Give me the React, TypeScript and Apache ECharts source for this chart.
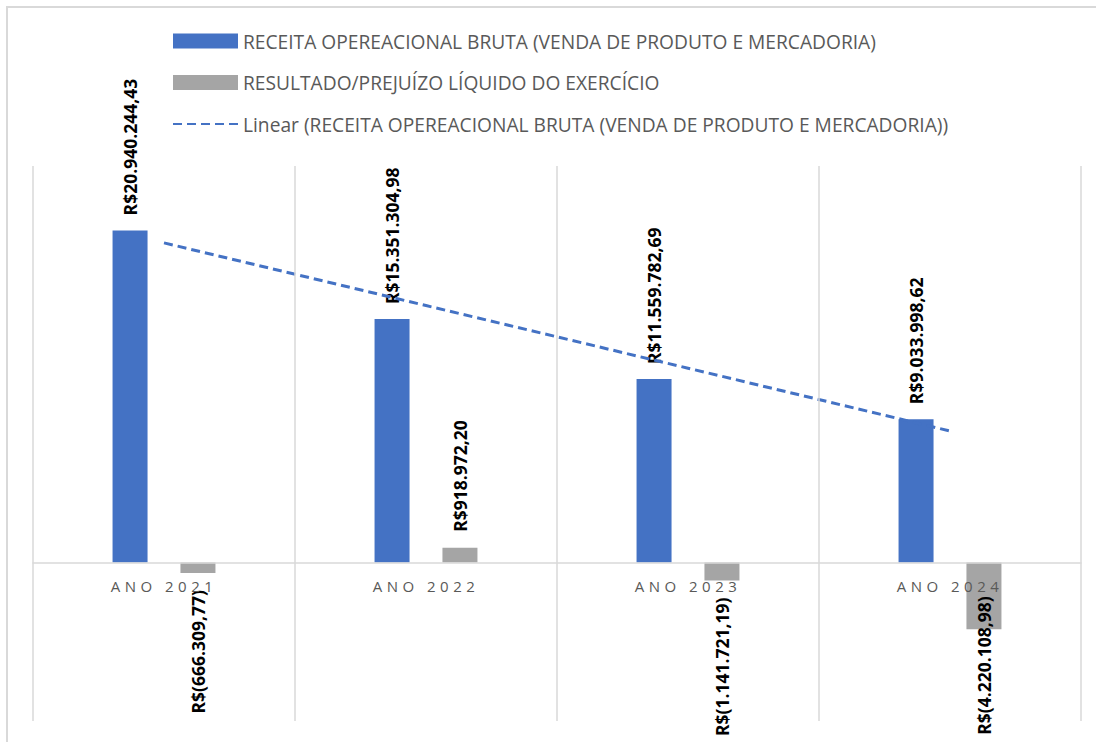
import React, { useEffect, useRef } from "react";
import * as echarts from "echarts";

const categories = ["ANO 2021", "ANO 2022", "ANO 2023", "ANO 2024"];
const receitaBruta = [20940244.43, 15351304.98, 11559782.69, 9033998.62];
const resultadoLiquido = [-666309.77, 918972.2, -1141721.19, -4220108.98];
const tendenciaLinear = [20150000, 16200000, 12250000, 8290000];

const NAME_RECEITA = "RECEITA OPEREACIONAL BRUTA (VENDA DE PRODUTO E MERCADORIA)";
const NAME_RESULTADO = "RESULTADO/PREJUÍZO LÍQUIDO DO EXERCÍCIO";
const NAME_LINEAR = "Linear (RECEITA OPEREACIONAL BRUTA (VENDA DE PRODUTO E MERCADORIA))";

const Y_MIN = -10000000;
const Y_MAX = 25000000;

const FONT = "'Open Sans', Lato, Roboto, sans-serif";
const AXIS_COLOR = "#595958";

function brl(v: number): string {
  const neg = v < 0;
  const [i, d] = Math.abs(v).toFixed(2).split(".");
  const s = i.replace(/\B(?=(\d{3})+(?!\d))/g, ".") + "," + d;
  return neg ? `R$(${s})` : `R$${s}`;
}

const labelBase = {
  show: true,
  rotate: 90,
  verticalAlign: "middle",
  color: "#000000",
  fontWeight: "bold",
  fontSize: 17.5,
  fontFamily: FONT,
  formatter: (p: any) => brl(p.value),
};

export default function App() {
  const ref = useRef<HTMLDivElement>(null);
  useEffect(() => {
    if (!ref.current) return;
    const chart = echarts.init(ref.current, null, { renderer: "svg" });
    const gridTop = 166;
    const gridBottom = 21;
    const gridHeight = 742 - gridTop - gridBottom;
    const zeroOffset = (gridHeight * (0 - Y_MIN)) / (Y_MAX - Y_MIN);
    chart.setOption({
      animation: false,
      backgroundColor: "#ffffff",
      graphic: [
        {
          type: "rect",
          shape: { x: 7, y: 7, width: 1200, height: 800 },
          style: { fill: "none", stroke: "#d9d9d9", lineWidth: 2 },
          silent: true,
          z: -1,
        },
      ],
      legend: {
        orient: "vertical",
        left: 167,
        top: 25,
        itemWidth: 65,
        itemHeight: 15,
        itemGap: 19.5,
        textStyle: { color: "#595959", fontSize: 19.2, fontFamily: FONT, lineHeight: 22 },
        data: [
          { name: NAME_RECEITA, icon: "rect" },
          { name: NAME_RESULTADO, icon: "rect" },
          { name: NAME_LINEAR, itemStyle: { opacity: 0 } },
        ],
      },
      grid: {
        left: 33,
        right: 15,
        top: gridTop,
        bottom: gridBottom,
        containLabel: false,
        outerBoundsMode: "none",
      },
      xAxis: {
        type: "category",
        data: categories,
        position: "bottom",
        offset: -zeroOffset,
        axisTick: { show: false },
        axisLine: { show: true, onZero: false, lineStyle: { color: "#d9d9d9", width: 1.5 } },
        splitLine: { show: true, interval: 0, lineStyle: { color: "#d9d9d9", width: 1.5 } },
        axisLabel: { color: AXIS_COLOR, fontSize: 15, fontFamily: FONT, margin: 16, interval: 0 },
        z: 10,
      },
      yAxis: {
        type: "value",
        min: Y_MIN,
        max: Y_MAX,
        show: false,
        splitLine: { show: false },
      },
      series: [
        {
          name: NAME_RECEITA,
          type: "bar",
          data: receitaBruta,
          barWidth: 35,
          barGap: "94%",
          itemStyle: { color: "#4472C4" },
          label: { ...labelBase, position: "top", align: "left", distance: 15 },
          z: 3,
        },
        {
          name: NAME_RESULTADO,
          type: "bar",
          data: resultadoLiquido.map((v, i) => ({
            value: v,
            label:
              v >= 0
                ? { position: "top", align: "left", distance: 16 }
                : { position: "bottom", align: "right", distance: i === 3 ? -33 : 17 },
          })),
          barWidth: 35,
          itemStyle: { color: "#A5A5A5" },
          label: { ...labelBase },
          z: 3,
        },
        {
          name: NAME_LINEAR,
          type: "line",
          data: tendenciaLinear,
          symbol: "none",
          lineStyle: { color: "#4472C4", width: 3, type: [9, 5] },
          itemStyle: { color: "#4472C4" },
          z: 4,
        },
      ],
    });
    return () => chart.dispose();
  }, []);
  return (
    <>
      <style>{`text[fill="${AXIS_COLOR}"]{letter-spacing:4.5px;}`}</style>
      <div
        ref={ref}
        style={{ position: "absolute", left: 0, top: 0, width: 1096, height: 742, background: "#fff" }}
      />
    </>
  );
}
